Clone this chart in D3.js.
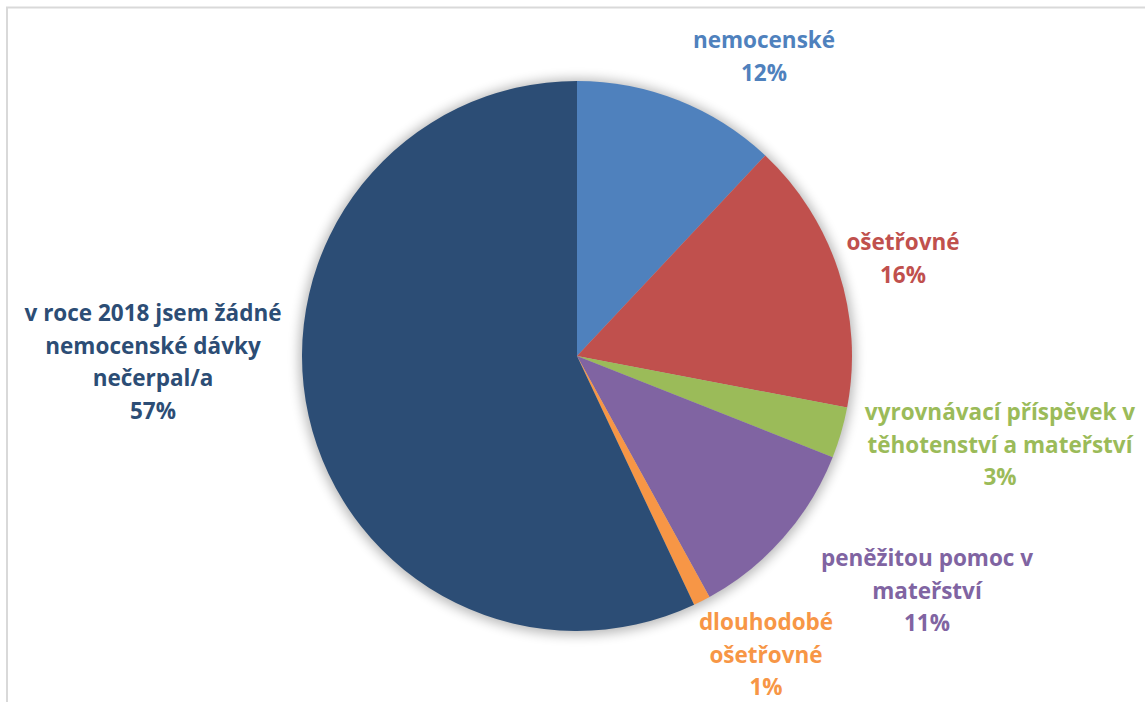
<!DOCTYPE html>
<html>
<head>
<meta charset="utf-8">
<script src="https://cdn.jsdelivr.net/npm/d3@7/dist/d3.min.js"></script>
<style>
  html, body { margin: 0; padding: 0; background: #fff; }
  svg { display: block; }
  text { font-family: "Open Sans", Lato, sans-serif; font-weight: 700; }
</style>
</head>
<body>
<svg id="chart" width="1145" height="702"></svg>
<script>
// Categories, shares (%) and slice colours, clockwise from 12 o'clock
const categories = [
  "nemocenské",
  "ošetřovné",
  "vyrovnávací příspěvek v těhotenství a mateřství",
  "peněžitou pomoc v mateřství",
  "dlouhodobé ošetřovné",
  "v roce 2018 jsem žádné nemocenské dávky nečerpal/a"
];
const shares = [12, 16, 3, 11, 1, 57];
const colors = ["#4F81BD", "#C0504D", "#9BBB59", "#8064A2", "#F79646", "#2C4D75"];

// Label lines as printed next to each slice
const labelLines = [
  ["nemocenské"],
  ["ošetřovné"],
  ["vyrovnávací příspěvek v", "těhotenství a mateřství"],
  ["peněžitou pomoc v", "mateřství"],
  ["dlouhodobé", "ošetřovné"],
  ["v roce 2018 jsem žádné", "nemocenské dávky", "nečerpal/a"]
];

// Layout: pie geometry and label anchors (centre x, first baseline y)
const cx = 577, cy = 356, radius = 275;
const labelPos = [
  [764, 48],
  [903, 250],
  [1000, 420],
  [927, 566],
  [766, 630],
  [153, 321]
];
const lineGap = 32.5;

const svg = d3.select("#chart");

// Frame (only its top and left edges fall inside the view)
svg.append("rect")
  .attr("x", 7).attr("y", 7.5)
  .attr("width", 1160).attr("height", 720)
  .attr("fill", "none")
  .attr("stroke", "#d9d9d9")
  .attr("stroke-width", 2);

// Soft shadow behind the pie
const defs = svg.append("defs");
defs.append("filter")
  .attr("id", "pieShadow")
  .attr("x", "-20%").attr("y", "-20%").attr("width", "140%").attr("height", "140%")
  .append("feGaussianBlur").attr("stdDeviation", 6);

svg.append("circle")
  .attr("cx", cx).attr("cy", cy + 1)
  .attr("r", radius + 3)
  .attr("fill", "#000")
  .attr("opacity", 0.28)
  .attr("filter", "url(#pieShadow)");

const pie = d3.pie().sort(null).value(d => d);
const arc = d3.arc().innerRadius(0).outerRadius(radius);

const g = svg.append("g").attr("transform", `translate(${cx},${cy})`);
g.selectAll("path")
  .data(pie(shares))
  .join("path")
  .attr("d", arc)
  .attr("fill", (d, i) => colors[i]);

// Labels: category lines followed by the share
const labels = svg.append("g")
  .selectAll("text")
  .data(shares)
  .join("text")
  .attr("text-anchor", "middle")
  .attr("font-size", 22.5)
  .attr("fill", (d, i) => colors[i]);

labels.each(function (d, i) {
  const t = d3.select(this);
  const lines = labelLines[i].concat([d + "%"]);
  lines.forEach((ln, k) => {
    t.append("tspan")
      .attr("x", labelPos[i][0])
      .attr("y", labelPos[i][1] + k * lineGap)
      .text(ln);
  });
});
</script>
</body>
</html>
